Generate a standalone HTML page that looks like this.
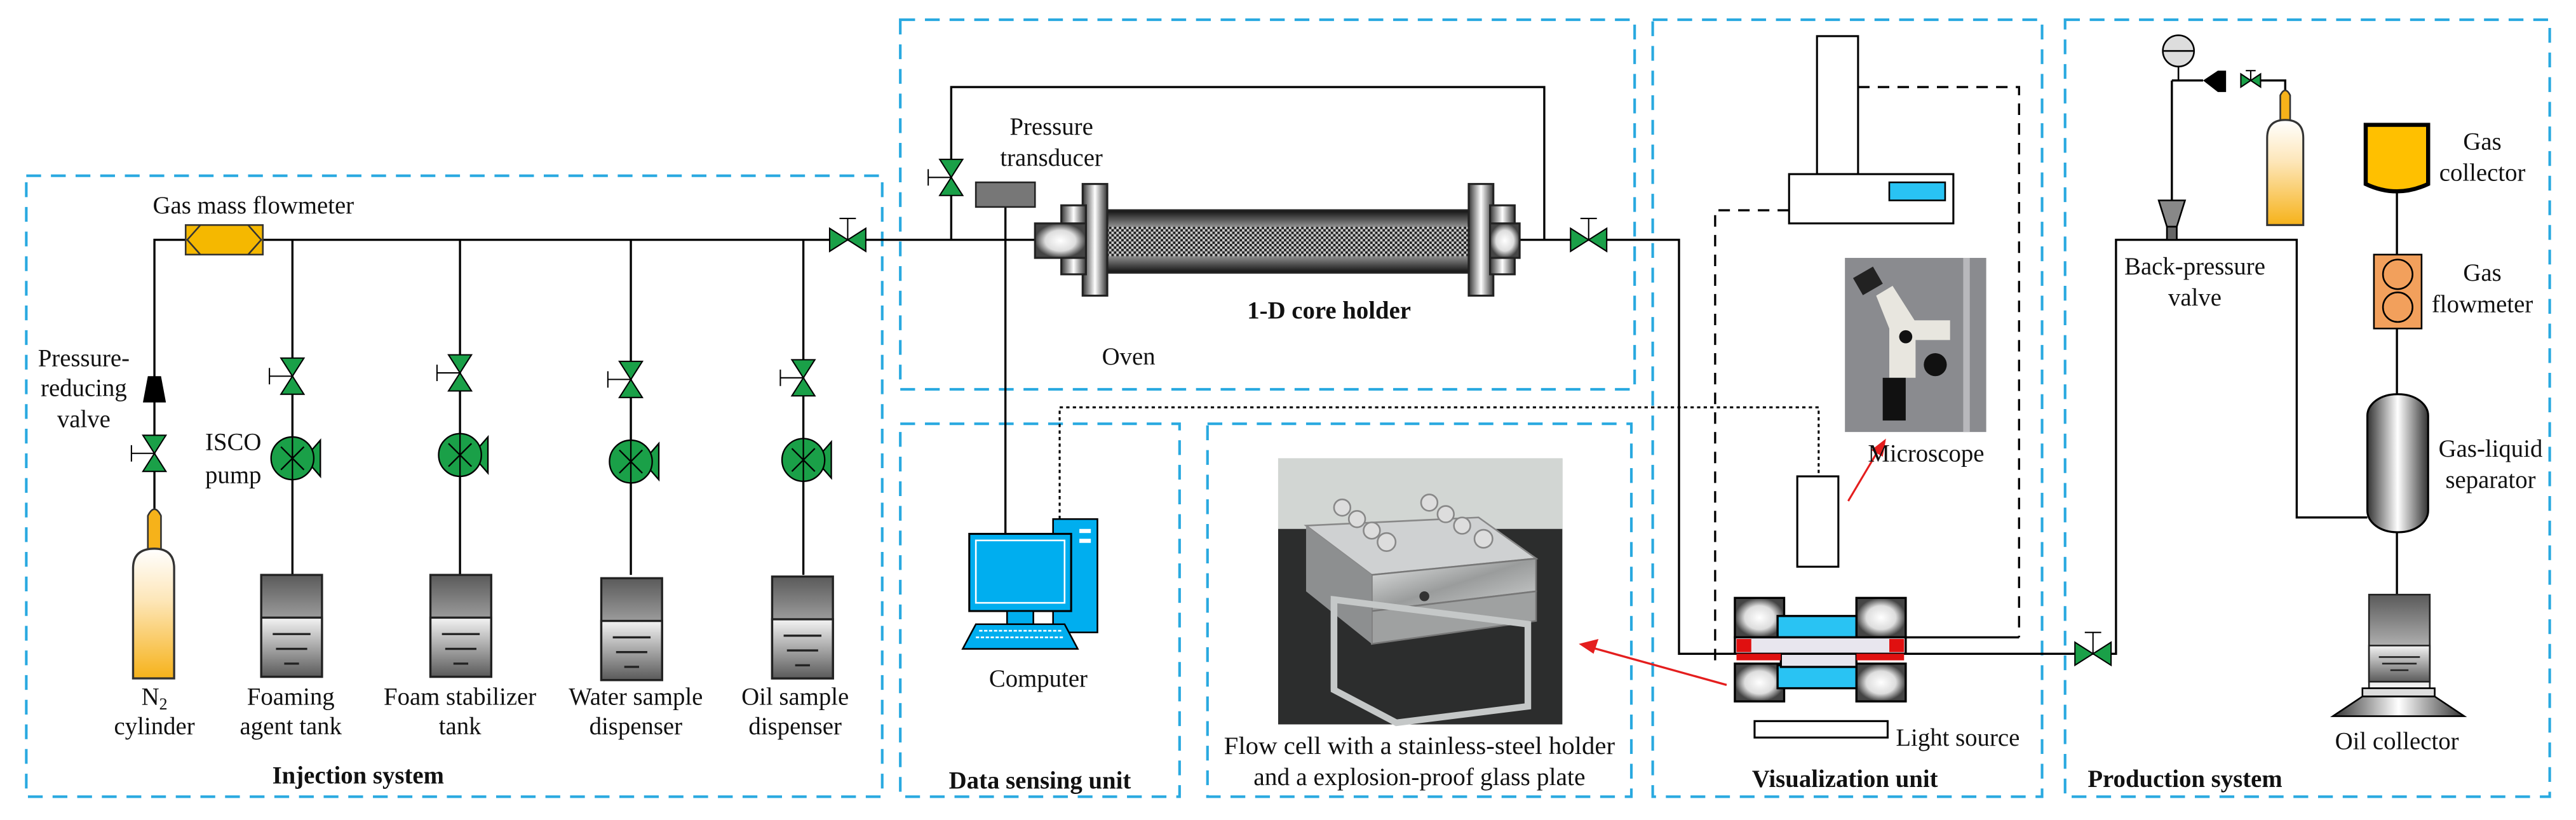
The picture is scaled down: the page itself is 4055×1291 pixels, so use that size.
<!DOCTYPE html>
<html><head><meta charset="utf-8"><style>html,body{margin:0;padding:0;background:#fff}svg{display:block}svg text{font-family:"Liberation Serif","DejaVu Serif","Times New Roman",serif;font-size:15px;fill:#111}</style></head>
<body>
<svg xmlns="http://www.w3.org/2000/svg" width="4055" height="1291" viewBox="0 0 1568 499.2" preserveAspectRatio="none" font-family="'Liberation Serif', 'DejaVu Serif', serif">
<defs>
<linearGradient id="tg" x1="0" y1="0" x2="0" y2="1"><stop offset="0" stop-color="#5a5a5a"/><stop offset="1" stop-color="#f4f4f4"/></linearGradient>
<linearGradient id="bg" x1="0" y1="0" x2="0" y2="1"><stop offset="0" stop-color="#f4f4f4"/><stop offset="1" stop-color="#5a5a5a"/></linearGradient>
<linearGradient id="cyl" x1="0" y1="0" x2="0" y2="1"><stop offset="0" stop-color="#fff"/><stop offset="0.4" stop-color="#fde6b8"/><stop offset="1" stop-color="#f6b21a"/></linearGradient>
<linearGradient id="tube" x1="0" y1="0" x2="0" y2="1"><stop offset="0" stop-color="#111"/><stop offset="0.5" stop-color="#fff"/><stop offset="1" stop-color="#111"/></linearGradient>
<linearGradient id="hz" x1="0" y1="0" x2="1" y2="0"><stop offset="0" stop-color="#333"/><stop offset="0.5" stop-color="#fff"/><stop offset="1" stop-color="#333"/></linearGradient>
<radialGradient id="knob"><stop offset="0" stop-color="#fff"/><stop offset="0.6" stop-color="#ddd"/><stop offset="1" stop-color="#444"/></radialGradient>
<pattern id="hatch" width="3" height="3" patternUnits="userSpaceOnUse"><rect width="3" height="3" fill="#ccc"/><rect width="1.5" height="1.5" fill="#222"/><rect x="1.5" y="1.5" width="1.5" height="1.5" fill="#222"/></pattern>
<linearGradient id="metal" x1="0" y1="0" x2="1" y2="1"><stop offset="0" stop-color="#e6e8e8"/><stop offset="0.5" stop-color="#9a9c9c"/><stop offset="1" stop-color="#d0d2d2"/></linearGradient>
</defs>

<g fill="none" stroke="#29a9e0" stroke-width="1.6" stroke-dasharray="9 6">
<rect x="16" y="107" width="521" height="378"/>
<rect x="548" y="12" width="447" height="225"/>
<rect x="548" y="258" width="170" height="227"/>
<rect x="735" y="258" width="258" height="227"/>
<rect x="1006" y="12" width="237" height="473"/>
<rect x="1257" y="12" width="295" height="473"/>
</g>

<g fill="none" stroke="#000" stroke-width="1.3">
<polyline points="94,310 94,146 630,146"/>
<line x1="178" y1="146" x2="178" y2="350"/>
<line x1="280" y1="146" x2="280" y2="350"/>
<line x1="384" y1="146" x2="384" y2="350"/>
<line x1="489" y1="146" x2="489" y2="350"/>
<polyline points="579,146 579,53 940,53 940,146"/>
<line x1="612" y1="126" x2="612" y2="325"/>
<polyline points="924,146 1022,146 1022,398 1056,398"/>
<polyline points="1158,398 1288,398 1288,146 1398,146 1398,315 1441,315"/>
<line x1="1322" y1="122" x2="1322" y2="49"/>
<polyline points="1322,49 1341,49"/>
<polyline points="1376,49 1391,49 1391,56"/>
<line x1="1459" y1="116" x2="1459" y2="362"/>
<line x1="1158" y1="388" x2="1229" y2="388"/>
</g>
<g fill="none" stroke="#000" stroke-width="1.3" stroke-dasharray="7 5">
<polyline points="1131,53 1229,53 1229,388"/>
<polyline points="1089,128 1044,128 1044,404"/>
</g>
<polyline points="645,320 645,248 1107,248 1107,290" fill="none" stroke="#000" stroke-width="1.2" stroke-dasharray="2 2"/>

<rect x="113" y="137" width="47" height="18" fill="#f5b800" stroke="#333"/>
<polyline points="122,137 114,146 122,155" fill="none" stroke="#333"/>
<polyline points="151,137 159,146 151,155" fill="none" stroke="#333"/>
<text x="93" y="130">Gas mass flowmeter</text>

<g fill="#1aa048" stroke="#000" stroke-width="0.8">
<g transform="translate(178,229)"><polygon points="-7,-11 7,-11 0,0"/><polygon points="-7,11 7,11 0,0"/><line x1="0" y1="0" x2="-14" y2="0"/><line x1="-14" y1="-5" x2="-14" y2="5"/></g>
<g transform="translate(280,227)"><polygon points="-7,-11 7,-11 0,0"/><polygon points="-7,11 7,11 0,0"/><line x1="0" y1="0" x2="-14" y2="0"/><line x1="-14" y1="-5" x2="-14" y2="5"/></g>
<g transform="translate(384,231)"><polygon points="-7,-11 7,-11 0,0"/><polygon points="-7,11 7,11 0,0"/><line x1="0" y1="0" x2="-14" y2="0"/><line x1="-14" y1="-5" x2="-14" y2="5"/></g>
<g transform="translate(489,230)"><polygon points="-7,-11 7,-11 0,0"/><polygon points="-7,11 7,11 0,0"/><line x1="0" y1="0" x2="-14" y2="0"/><line x1="-14" y1="-5" x2="-14" y2="5"/></g>
<g transform="translate(94,276)"><polygon points="-7,-11 7,-11 0,0"/><polygon points="-7,11 7,11 0,0"/><line x1="0" y1="0" x2="-14" y2="0"/><line x1="-14" y1="-5" x2="-14" y2="5"/></g>
<g transform="translate(579,108)"><polygon points="-7,-11 7,-11 0,0"/><polygon points="-7,11 7,11 0,0"/><line x1="0" y1="0" x2="-14" y2="0"/><line x1="-14" y1="-5" x2="-14" y2="5"/></g>
<g transform="translate(516,146)"><polygon points="-11,-7 -11,7 0,0"/><polygon points="11,-7 11,7 0,0"/><line x1="0" y1="0" x2="0" y2="-13"/><line x1="-5" y1="-13" x2="5" y2="-13"/></g>
<g transform="translate(967,146)"><polygon points="-11,-7 -11,7 0,0"/><polygon points="11,-7 11,7 0,0"/><line x1="0" y1="0" x2="0" y2="-13"/><line x1="-5" y1="-13" x2="5" y2="-13"/></g>
<g transform="translate(1274,398)"><polygon points="-11,-7 -11,7 0,0"/><polygon points="11,-7 11,7 0,0"/><line x1="0" y1="0" x2="0" y2="-13"/><line x1="-5" y1="-13" x2="5" y2="-13"/></g>
<g transform="translate(1370,49)"><polygon points="-6,-4 -6,4 0,0"/><polygon points="6,-4 6,4 0,0"/><line x1="0" y1="0" x2="0" y2="-6"/><line x1="-3" y1="-6" x2="3" y2="-6"/></g>
</g>

<g stroke="#000" stroke-width="0.9">
<g transform="translate(178,279)"><polygon points="10,-3 17,-11 17,11 10,3" fill="#1aa048"/><circle r="13" fill="#1aa048"/><path d="M0,-13V13M-7,-7L7,7M-7,7L7,-7" fill="none"/></g>
<g transform="translate(280,277)"><polygon points="10,-3 17,-11 17,11 10,3" fill="#1aa048"/><circle r="13" fill="#1aa048"/><path d="M0,-13V13M-7,-7L7,7M-7,7L7,-7" fill="none"/></g>
<g transform="translate(384,281)"><polygon points="10,-3 17,-11 17,11 10,3" fill="#1aa048"/><circle r="13" fill="#1aa048"/><path d="M0,-13V13M-7,-7L7,7M-7,7L7,-7" fill="none"/></g>
<g transform="translate(489,280)"><polygon points="10,-3 17,-11 17,11 10,3" fill="#1aa048"/><circle r="13" fill="#1aa048"/><path d="M0,-13V13M-7,-7L7,7M-7,7L7,-7" fill="none"/></g>
</g>

<g stroke="#222" stroke-width="1.3">
<g transform="translate(159,350)"><rect width="37" height="62" fill="url(#tg)"/><rect y="26" width="37" height="36" fill="url(#bg)"/><path d="M7,36H30M9,45H28M14,54H23" fill="none"/></g>
<g transform="translate(262,350)"><rect width="37" height="62" fill="url(#tg)"/><rect y="26" width="37" height="36" fill="url(#bg)"/><path d="M7,36H30M9,45H28M14,54H23" fill="none"/></g>
<g transform="translate(366,352)"><rect width="37" height="62" fill="url(#tg)"/><rect y="26" width="37" height="36" fill="url(#bg)"/><path d="M7,36H30M9,45H28M14,54H23" fill="none"/></g>
<g transform="translate(470,351)"><rect width="37" height="62" fill="url(#tg)"/><rect y="26" width="37" height="36" fill="url(#bg)"/><path d="M7,36H30M9,45H28M14,54H23" fill="none"/></g>
</g>

<path d="M90,335 V314 Q94,306 98,314 V335 Z" fill="#f6b21a" stroke="#333"/>
<path d="M81,413 V346 Q81,334 94,334 Q106,334 106,346 V413 Z" fill="url(#cyl)" stroke="#333" stroke-width="1.3"/>
<polygon points="90,229 98,229 101,245 87,245" fill="#000"/>
<g text-anchor="middle">
<text x="51" y="223">Pressure-</text>
<text x="51" y="241">reducing</text>
<text x="51" y="260">valve</text>
<text x="142" y="274">ISCO</text>
<text x="142" y="294">pump</text>
<text x="94" y="429">N<tspan font-size="10" dy="3">2</tspan></text>
<text x="94" y="447">cylinder</text>
<text x="177" y="429">Foaming</text><text x="177" y="447">agent tank</text>
<text x="280" y="429">Foam stabilizer</text><text x="280" y="447">tank</text>
<text x="387" y="429">Water sample</text><text x="387" y="447">dispenser</text>
<text x="484" y="429">Oil sample</text><text x="484" y="447">dispenser</text>
<text x="218" y="477" font-weight="bold">Injection system</text>
</g>

<rect x="594" y="111" width="36" height="15" fill="#777" stroke="#222"/>
<text x="640" y="82" text-anchor="middle">Pressure</text>
<text x="640" y="101" text-anchor="middle">transducer</text>

<g stroke="#222" stroke-width="1.2">
<rect x="674" y="128" width="220" height="38" fill="url(#tube)"/>
<rect x="674" y="138" width="220" height="18" fill="url(#hatch)" stroke="none"/>
<rect x="659" y="112" width="15" height="68" fill="url(#hz)"/>
<rect x="646" y="125" width="15" height="42" fill="url(#hz)"/>
<rect x="630" y="136" width="31" height="21" fill="url(#knob)"/>
<rect x="894" y="112" width="15" height="68" fill="url(#hz)"/>
<rect x="907" y="125" width="15" height="42" fill="url(#hz)"/>
<rect x="907" y="136" width="18" height="21" fill="url(#knob)"/>
</g>
<text x="809" y="194" text-anchor="middle" font-weight="bold">1-D core holder</text>
<text x="687" y="222" text-anchor="middle">Oven</text>

<rect x="641" y="316" width="27" height="69" fill="#00aeef" stroke="#000"/>
<rect x="657" y="322" width="7" height="2.5" fill="#fff"/><rect x="657" y="328" width="7" height="2.5" fill="#fff"/>
<rect x="590" y="325" width="62" height="47" fill="#00aeef" stroke="#000" stroke-width="1.2"/>
<rect x="594" y="329" width="54" height="38" fill="#00aeef" stroke="#fff" stroke-width="1"/>
<rect x="613" y="372" width="16" height="8" fill="#00aeef" stroke="#000"/>
<polygon points="594,380 648,380 656,395 586,395" fill="#00aeef" stroke="#000"/>
<path d="M596,384H646M594,388H648" stroke="#fff" stroke-dasharray="2 1"/>
<text x="632" y="418" text-anchor="middle">Computer</text>
<text x="633" y="480" text-anchor="middle" font-weight="bold">Data sensing unit</text>

<rect x="778" y="279" width="173" height="162" fill="#2c2d2d"/>
<rect x="778" y="279" width="173" height="43" fill="#d2d6d3"/>
<polygon points="795,320 900,315 935,340 835,350" fill="#cfd1d2" stroke="#888"/>
<polygon points="835,350 935,340 935,360 835,372" fill="url(#metal)" stroke="#777"/>
<polygon points="835,372 935,360 935,378 835,392" fill="#9fa1a1" stroke="#777"/>
<polygon points="795,320 835,350 835,392 795,360" fill="#8d8f90"/>
<polygon points="812,365 930,380 930,430 850,440 812,420" fill="none" stroke="#c5c8c8" stroke-width="4"/>
<line x1="812" y1="365" x2="812" y2="420" stroke="#c5c8c8" stroke-width="4"/>
<g fill="#ddd" stroke="#888"><circle cx="817" cy="309" r="5"/><circle cx="826" cy="316" r="5"/><circle cx="835" cy="323" r="5"/><circle cx="844" cy="330" r="5.5"/><circle cx="870" cy="306" r="5"/><circle cx="880" cy="313" r="5"/><circle cx="890" cy="320" r="5"/><circle cx="903" cy="328" r="5.5"/></g>
<circle cx="867" cy="363" r="3" fill="#333"/>
<text x="864" y="459" text-anchor="middle" textLength="238" lengthAdjust="spacingAndGlyphs">Flow cell with a stainless-steel holder</text>
<text x="864" y="478" text-anchor="middle" textLength="202" lengthAdjust="spacingAndGlyphs">and a explosion-proof glass plate</text>
<line x1="1051" y1="417" x2="968" y2="394" stroke="#e41e1e" stroke-width="1.3"/>
<polygon points="961,392 973,389 970,398" fill="#e41e1e"/>

<rect x="1106" y="22" width="25" height="84" fill="#fff" stroke="#000" stroke-width="1.2"/>
<rect x="1089" y="106" width="100" height="30" fill="#fff" stroke="#000" stroke-width="1.2"/>
<rect x="1150" y="111" width="34" height="11" fill="#29c3f3" stroke="#000"/>
<rect x="1123" y="157" width="86" height="106" fill="#8a8b8f"/>
<rect x="1195" y="157" width="4" height="106" fill="#b8b8bc"/>
<rect x="1130" y="165" width="14" height="12" fill="#222" transform="rotate(-30 1137 171)"/>
<path d="M1142,180 l10,-6 l14,22 l0,34 h-16 v-30 z" fill="#e8e6df"/>
<rect x="1165" y="195" width="22" height="12" fill="#e8e6df"/>
<rect x="1146" y="230" width="14" height="26" fill="#111"/>
<circle cx="1178" cy="222" r="7" fill="#111"/>
<circle cx="1160" cy="205" r="4" fill="#111"/>
<rect x="1094" y="290" width="25" height="55" fill="#fff" stroke="#000" stroke-width="1.2"/>
<line x1="1125" y1="305" x2="1144" y2="273" stroke="#e41e1e" stroke-width="1.2"/>
<polygon points="1148,267 1146,278 1139,274" fill="#e41e1e"/>
<text x="1137" y="281">Microscope</text>

<g stroke="#000" stroke-width="1.3">
<rect x="1056" y="364" width="30" height="24" fill="url(#knob)"/>
<rect x="1130" y="364" width="30" height="24" fill="url(#knob)"/>
<rect x="1056" y="404" width="30" height="23" fill="url(#knob)"/>
<rect x="1130" y="404" width="30" height="23" fill="url(#knob)"/>
<rect x="1082" y="375" width="48" height="13" fill="#29c3f3"/>
<rect x="1082" y="405" width="48" height="14" fill="#29c3f3"/>
<rect x="1056" y="388" width="104" height="10" fill="#e8e6ee"/>
<rect x="1084" y="398" width="46" height="8" fill="#e8e6ee"/>
</g>
<rect x="1057" y="389" width="9" height="8" fill="#e01010"/>
<rect x="1150" y="389" width="9" height="8" fill="#e01010"/>
<rect x="1057" y="398" width="27" height="4" fill="#e01010"/>
<rect x="1130" y="398" width="29" height="4" fill="#e01010"/>
<rect x="1068" y="439" width="81" height="10" fill="#fff" stroke="#000" stroke-width="1.2"/>
<text x="1154" y="454">Light source</text>
<text x="1123" y="479" text-anchor="middle" font-weight="bold">Visualization unit</text>

<circle cx="1326" cy="31" r="9.5" fill="#ddd" stroke="#000"/>
<line x1="1317" y1="31" x2="1335" y2="31" stroke="#000"/>
<line x1="1326" y1="40" x2="1326" y2="49" stroke="#000"/>
<polygon points="1341,49 1350,43 1355,43 1355,56 1350,56" fill="#000"/>
<polygon points="1314,122 1330,122 1325,138 1319,138" fill="#888" stroke="#000"/>
<rect x="1319" y="138" width="6" height="8" fill="#666" stroke="#000"/>
<path d="M1388,73 V58 Q1391,52 1394,58 V73 Z" fill="#f6b21a" stroke="#333"/>
<path d="M1380,137 V84 Q1380,73 1391,73 Q1402,73 1402,84 V137 Z" fill="url(#cyl)" stroke="#333" stroke-width="1.2"/>
<text x="1336" y="167" text-anchor="middle">Back-pressure</text>
<text x="1336" y="186" text-anchor="middle">valve</text>
<path d="M1440,76 H1478 V112 Q1459,121 1440,112 Z" fill="#ffc000" stroke="#000" stroke-width="2.5"/>
<text x="1511" y="91" text-anchor="middle">Gas</text>
<text x="1511" y="110" text-anchor="middle">collector</text>
<rect x="1445" y="155" width="29" height="45" fill="#f2a05c" stroke="#000"/>
<circle cx="1459.5" cy="167" r="9" fill="none" stroke="#000"/>
<circle cx="1459.5" cy="187" r="9" fill="none" stroke="#000"/>
<text x="1511" y="171" text-anchor="middle">Gas</text>
<text x="1511" y="190" text-anchor="middle">flowmeter</text>
<rect x="1441" y="240" width="37" height="84" rx="18" ry="13" fill="url(#hz)" stroke="#000" stroke-width="1.2"/>
<text x="1516" y="278" text-anchor="middle">Gas-liquid</text>
<text x="1516" y="297" text-anchor="middle">separator</text>
<rect x="1442" y="362" width="37" height="57" fill="url(#tg)" stroke="#222"/>
<rect x="1442" y="393" width="37" height="22" fill="url(#bg)" stroke="#222"/>
<path d="M1448,400H1473M1450,404H1471M1455,408H1466" stroke="#222"/>
<rect x="1438" y="419" width="44" height="5" fill="#ddd" stroke="#000"/>
<polygon points="1438,424 1482,424 1500,436 1420,436" fill="url(#hz)" stroke="#000"/>
<text x="1459" y="456" text-anchor="middle">Oil collector</text>
<text x="1330" y="479" text-anchor="middle" font-weight="bold">Production system</text>
</svg>
</body></html>
